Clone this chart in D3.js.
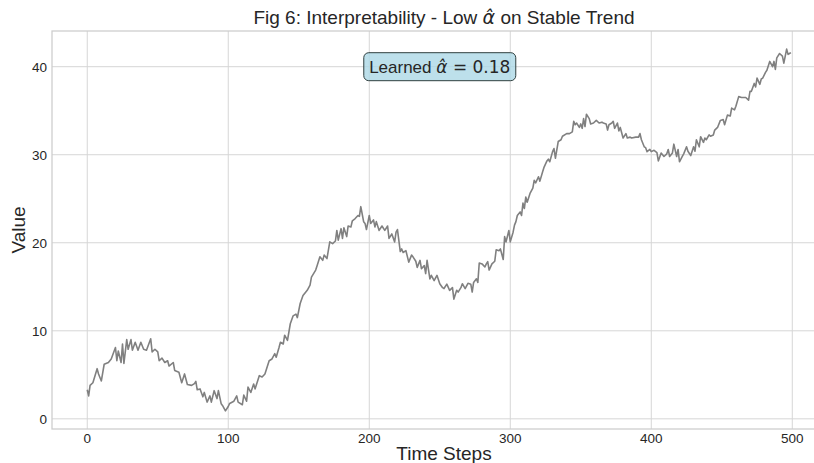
<!DOCTYPE html>
<html><head><meta charset="utf-8">
<script src="https://cdn.jsdelivr.net/npm/d3@7"></script>
<style>body{margin:0;background:#fff}</style>
</head><body>
<svg id="chart" width="814" height="463"></svg>
<script>
const timeSteps = [0,1,2,4,7,8,10,12,15,17,20,21,22,24,25,26,28,29,31,32,34,36,38,40,42,45,46,48,50,51,53,55,57,58,61,62,65,67,69,71,74,76,77,78,80,82,83,85,87,88,90,92,93,95,96,98,100,101,104,106,107,110,111,113,114,116,118,119,122,124,126,129,131,133,134,136,137,139,140,142,144,146,148,149,151,153,156,158,159,162,163,165,167,168,170,172,174,176,177,178,180,181,182,184,185,187,188,190,192,193,194,196,197,198,200,201,203,204,205,207,209,211,213,214,216,218,219,220,222,223,224,226,228,230,231,233,234,236,237,239,240,241,243,244,246,248,250,252,253,255,257,259,260,262,263,265,266,268,270,272,273,274,276,277,278,280,282,283,284,285,287,289,290,292,293,295,296,297,299,300,302,303,304,305,307,308,309,310,311,312,314,316,317,318,320,321,323,324,326,327,328,330,331,332,334,336,337,340,342,344,345,346,347,349,350,351,352,353,354,356,357,359,361,363,365,366,368,369,370,372,373,374,376,377,378,380,382,383,385,386,389,391,392,393,395,396,397,399,400,402,404,405,407,409,411,412,413,415,416,418,419,420,422,423,425,426,428,430,431,432,434,435,437,438,439,441,442,444,445,447,449,451,452,454,456,457,459,460,462,464,467,469,470,471,473,474,475,477,478,479,481,482,484,486,487,488,489,491,493,494,496,497,498,499];
const values = [3.3,2.6,3.8,4.1,5.7,5.1,4.3,6.2,6.4,6.8,8.1,6.6,7.7,6.4,8.5,6.3,9.0,7.9,9.0,7.8,8.7,7.8,8.7,7.9,7.8,9.1,7.6,7.9,7.6,6.6,6.9,6.4,6.6,6.0,6.4,5.5,5.3,4.1,5.1,3.9,3.8,4.0,4.25,3.3,3.4,2.5,3.0,1.9,2.6,1.9,3.2,2.3,3.2,1.7,1.5,0.9,1.4,1.75,2.0,2.6,1.9,1.6,2.7,2.0,3.6,3.0,3.95,3.4,4.9,4.75,5.1,6.6,6.8,7.4,7.0,8.1,8.7,8.5,9.5,8.9,10.8,11.7,11.9,11.5,13.1,14.0,14.6,15.2,16.1,16.9,17.4,18.4,18.0,18.6,18.2,20.1,19.9,20.2,21.4,20.3,21.6,20.5,21.7,20.7,21.9,21.8,22.5,22.75,23.1,23.0,24.1,22.4,22.2,21.5,23.1,22.2,22.6,21.8,22.4,21.4,21.9,21.4,21.9,20.5,21.0,20.1,21.2,21.5,19.0,19.3,18.9,19.1,17.8,18.6,18.4,17.9,17.2,18.0,17.05,17.4,16.5,18.0,15.9,16.3,15.7,16.3,15.35,14.9,14.8,15.3,14.6,14.9,13.6,14.6,14.4,14.9,15.35,14.8,15.4,15.3,14.4,15.5,15.9,15.5,17.7,17.6,17.25,17.6,17.85,16.9,17.6,17.9,19.2,19.1,19.3,18.1,20.7,20.1,21.4,20.1,21.2,22.0,22.4,23.1,23.5,23.1,24.5,23.9,25.2,24.6,25.6,26.2,27.1,26.8,27.5,27.0,28.1,28.6,29.3,29.5,29.2,30.35,30.7,29.6,31.5,31.7,32.1,32.4,32.4,32.6,33.8,33.4,33.6,33.1,33.5,33.0,34.1,33.2,34.6,34.1,33.5,33.6,33.9,33.6,33.7,33.6,33.5,32.8,33.4,33.6,33.8,33.0,33.6,32.7,33.1,31.9,32.4,31.9,32.0,31.9,32.0,32.0,32.4,31.7,30.9,30.8,30.35,30.6,30.35,30.5,30.25,29.3,30.2,29.8,30.1,30.6,29.8,30.2,31.2,29.8,30.6,29.2,29.8,30.1,30.9,30.4,29.9,30.9,30.4,31.7,30.9,32.05,31.4,31.9,31.7,32.25,32.1,32.25,32.8,33.1,33.9,34.0,33.4,34.5,34.4,35.3,35.1,35.5,36.6,36.5,36.5,36.2,37.2,37.2,38.1,37.7,38.7,38.0,38.6,38.7,39.35,39.6,40.6,40.0,40.6,39.7,41.0,41.5,41.2,40.4,42.0,41.4,41.5,41.6];
const xTicks = [0,100,200,300,400,500];
const yTicks = [0,10,20,30,40];
const titleParts = ["Fig 6: Interpretability - Low ", "α̂", " on Stable Trend"];
const boxParts = ["Learned ", "α̂", " = 0.18"];
const boxAnchor = [250, 40];
const xLabel = "Time Steps";
const yLabel = "Value";

const svg = d3.select("#chart");
const L = 52, R = 836, T = 31, B = 429;
const x = d3.scaleLinear().domain([-25, 531]).range([L, R]);
const ext = d3.extent(values);
const pad = (ext[1]-ext[0])*0.05;
const y = d3.scaleLinear().domain([ext[0]-pad, ext[1]+pad]).range([B, T]);

svg.append("defs").append("clipPath").attr("id","clip")
  .append("rect").attr("x",L).attr("y",T).attr("width",R-L).attr("height",B-T);

const grid = svg.append("g").attr("clip-path","url(#clip)");
grid.selectAll("line.gx").data(xTicks).join("line")
  .attr("x1",d=>x(d)).attr("x2",d=>x(d)).attr("y1",T).attr("y2",B)
  .attr("stroke","#d6d6d6").attr("stroke-width",1);
grid.selectAll("line.gy").data(yTicks).join("line")
  .attr("class","gy")
  .attr("x1",L).attr("x2",R).attr("y1",d=>y(d)).attr("y2",d=>y(d))
  .attr("stroke","#d6d6d6").attr("stroke-width",1);

svg.append("rect").attr("x",L).attr("y",T).attr("width",R-L).attr("height",B-T)
  .attr("fill","none").attr("stroke","#cccccc").attr("stroke-width",1.25);

const pts = timeSteps.map((t,i)=>[t, values[i]]);
svg.append("path").datum(pts).attr("clip-path","url(#clip)")
  .attr("fill","none").attr("stroke","#808080").attr("stroke-width",1.6)
  .attr("stroke-linejoin","round")
  .attr("d", d3.line().x(d=>x(d[0])).y(d=>y(d[1])));

const font = "'Liberation Sans', Arial, sans-serif";
svg.append("g").selectAll("text").data(xTicks).join("text")
  .attr("x",d=>x(d)).attr("y",B+13.5).attr("text-anchor","middle")
  .attr("font-family",font).attr("font-size",13.5).attr("fill","#262626").text(d=>d);
svg.append("g").selectAll("text").data(yTicks).join("text")
  .attr("x",L-5).attr("y",d=>y(d)+5).attr("text-anchor","end")
  .attr("font-family",font).attr("font-size",13.5).attr("fill","#262626").text(d=>d);

svg.append("text").attr("x",(L+R)/2).attr("y",460).attr("text-anchor","middle")
  .attr("font-family",font).attr("font-size",19).attr("fill","#262626").text(xLabel);
svg.append("text").attr("transform",`translate(25,${(T+B)/2}) rotate(-90)`).attr("text-anchor","middle")
  .attr("font-family",font).attr("font-size",19).attr("fill","#262626").text(yLabel);

const title = svg.append("text").attr("x",(L+R)/2).attr("y",24).attr("text-anchor","middle")
  .attr("font-family",font).attr("font-size",19).attr("fill","#262626");
title.append("tspan").text(titleParts[0]);
title.append("tspan").attr("font-family","'DejaVu Sans'").attr("font-style","italic").text(titleParts[1]);
title.append("tspan").text(titleParts[2]);

const bx = x(boxAnchor[0]), by = y(boxAnchor[1]);
const bg = svg.append("g");
const rect = bg.append("rect").attr("rx",5).attr("ry",5)
  .attr("fill","#add8e6").attr("fill-opacity",0.8).attr("stroke","#2f3f3f").attr("stroke-width",1);
const bt = bg.append("text").attr("x",bx).attr("y",by+6).attr("text-anchor","middle")
  .attr("font-family",font).attr("font-size",17).attr("fill","#262626");
bt.append("tspan").text(boxParts[0]);
bt.append("tspan").attr("font-family","'DejaVu Sans'").attr("font-style","italic").text(boxParts[1]);
bt.append("tspan").attr("font-family","'DejaVu Sans'").text(boxParts[2]);
rect.attr("x",bx-76).attr("y",by-14).attr("width",152).attr("height",28);
</script>
</body></html>
